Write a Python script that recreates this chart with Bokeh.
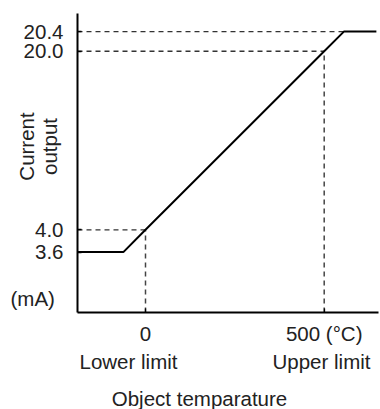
import math
from bokeh.plotting import figure
from bokeh.models import Range1d, FixedTicker, Label
from bokeh.embed import file_html
from bokeh.resources import INLINE

# ---- data ----
temp_c = [-190, -62, 0, 500, 555, 646]          # object temperature (°C)
current_ma = [3.6, 3.6, 4.0, 20.0, 20.4, 20.4]  # current output (mA)

y_tick_values = [3.6, 4.0, 20.0, 20.4]
y_tick_labels = ["3.6", "4.0", "20.0", "20.4"]
x_tick_values = [0, 500]
x_tick_labels = ["0", "500 (°C)"]

guide_h_x = [0, 500, 555]
guide_h_y = [4.0, 20.0, 20.4]
guide_v_x = [0, 500]
guide_v_y = [4.0, 20.0]

FONT = "Liberation Sans"
FS = "20.5px"

# schematic (non-linear) current axis: the regions below 4 mA and above 20 mA are expanded
def ypos(v):
    if v < 4.0:
        return 4.0 - (4.0 - v) * 5.0
    if v > 20.0:
        return 20.0 + (v - 20.0) * 4.4
    return v

# canvas pixel <-> data helpers (frame covers the whole canvas)
W, H = 380, 409
def xd(px):
    return (px - 145.0) * 2.798

def yd(py):
    return 4.0 - (py - 229.3) / 11.16

AX_X, AX_Y = xd(77), yd(312)       # where the axes cross
X_END, Y_END = xd(378), yd(13)     # ends of the axis lines

p = figure(width=W, height=H, output_backend="svg", toolbar_location=None,
           x_range=Range1d(xd(0), xd(W)), y_range=Range1d(yd(H), yd(0)),
           min_border_left=0, min_border_right=0, min_border_top=0, min_border_bottom=0)
p.outline_line_color = None
p.xgrid.visible = False
p.ygrid.visible = False
p.background_fill_color = "white"
p.border_fill_color = "white"

ys = [ypos(v) for v in current_ma]

# dashed guide lines
p.segment(x0=[AX_X] * len(guide_h_x), y0=[ypos(v) for v in guide_h_y],
          x1=guide_h_x, y1=[ypos(v) for v in guide_h_y],
          line_color="#333333", line_width=1.3, line_dash="5 4")
p.segment(x0=guide_v_x, y0=[AX_Y] * len(guide_v_x),
          x1=guide_v_x, y1=[ypos(v) for v in guide_v_y],
          line_color="#444444", line_width=1.5, line_dash="5 4")

# characteristic line
p.line(temp_c, ys, line_color="black", line_width=2)

# axes, pinned inside the frame
for ax in (p.xaxis[0], p.yaxis[0]):
    ax.axis_line_color = "black"
    ax.axis_line_width = 2
    ax.major_tick_in = 4
    ax.major_tick_out = 0
    ax.minor_tick_line_color = None
    ax.major_tick_line_color = "black"
    ax.major_tick_line_width = 1.3
    ax.major_label_text_font = FONT
    ax.major_label_text_font_size = FS
    ax.major_label_text_color = "#222222"

p.yaxis.fixed_location = AX_X
p.yaxis.bounds = (AX_Y, Y_END)
p.yaxis.ticker = FixedTicker(ticks=[ypos(v) for v in y_tick_values])
p.yaxis.major_label_overrides = {ypos(v): s for v, s in zip(y_tick_values, y_tick_labels)}
p.yaxis.major_label_standoff = 14

p.xaxis.fixed_location = AX_Y
p.xaxis.bounds = (AX_X, X_END)
p.xaxis.ticker = FixedTicker(ticks=x_tick_values)
p.xaxis.major_label_overrides = {v: s for v, s in zip(x_tick_values, x_tick_labels)}
p.xaxis.major_label_standoff = 9

def add_label(text, px, py, align="left", baseline="alphabetic", angle=0.0):
    p.add_layout(Label(x=px, y=py, x_units="canvas", y_units="canvas", text=text,
                       text_align=align, text_baseline=baseline, angle=angle,
                       text_font=FONT, text_font_size=FS, text_color="#222222"))

add_label("(mA)", 10, 298)
add_label("Lower limit", 128, 361, align="center")
add_label("Upper limit", 321, 361, align="center")
add_label("Object temparature", 199, 398, align="center")
add_label("Current", 26, 146, align="center", angle=math.pi / 2)
add_label("output", 49, 146, align="center", angle=math.pi / 2)

open("out.html", "w").write(file_html(p, INLINE))
